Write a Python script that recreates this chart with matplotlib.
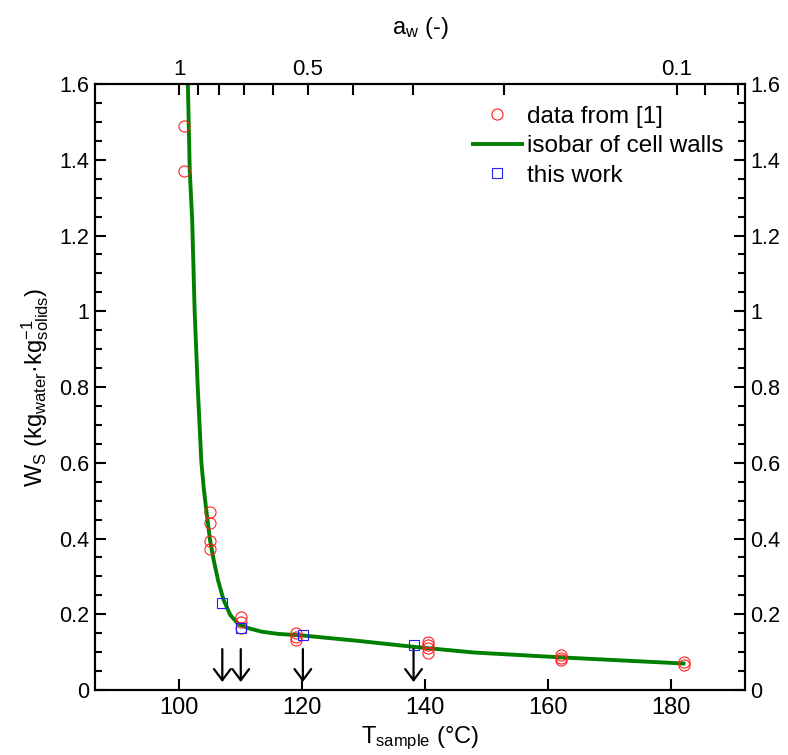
import numpy as np
import matplotlib.pyplot as plt
from matplotlib.ticker import MultipleLocator

plt.rcParams['font.family'] = ['Liberation Sans', 'DejaVu Sans']
plt.rcParams['mathtext.fontset'] = 'custom'
plt.rcParams['mathtext.rm'] = 'Liberation Sans'
plt.rcParams['mathtext.it'] = 'Liberation Sans:italic'

# data from [1]
lit_T = [100.8, 100.8, 105.0, 105.0, 105.0, 105.0, 110.0, 110.0, 110.0,
         119.0, 119.0, 119.0, 140.5, 140.5, 140.5, 140.5, 162.0, 162.0, 162.0,
         182.1, 182.1]
lit_W = [1.489, 1.370, 0.470, 0.441, 0.394, 0.372, 0.193, 0.180, 0.165,
         0.150, 0.141, 0.133, 0.127, 0.119, 0.110, 0.097, 0.092, 0.084, 0.079,
         0.075, 0.066]

# this work
own_T = [107.0, 110.0, 120.1, 138.1]
own_W = [0.231, 0.163, 0.145, 0.120]

# isobar of cell walls
iso_T = [101.4, 101.7, 102.1, 102.5, 103.0, 103.3, 103.6, 104.0, 104.45, 105.0,
         105.6, 106.3, 107.2, 108.3, 109.6, 111.3, 113.4, 116.1, 120.0, 128.9,
         138.1, 147.9, 162.2, 172.0, 182.0]
iso_W = [1.600, 1.373, 1.241, 1.000, 0.800, 0.700, 0.600, 0.530, 0.467, 0.396,
         0.343, 0.290, 0.238, 0.198, 0.174, 0.163, 0.154, 0.148, 0.144, 0.130,
         0.114, 0.099, 0.086, 0.078, 0.070]

# water activity ticks on top axis
aw_ticks = [1, 0.9, 0.8, 0.7, 0.6, 0.5, 0.4, 0.3, 0.2, 0.1, 0.09, 0.08]
aw_labels = ['1', '', '', '', '', '0.5', '', '', '', '0.1', '', '']

# Antoine equation (mmHg, degC) to convert a_w <-> T at atmospheric pressure
A, B, C = 8.14019, 1810.94, 244.485


def p_sat(t):
    return 10 ** (A - B / (C + t))


def t_from_aw(aw):
    p = p_sat(100.0) / np.asarray(aw, dtype=float)
    return B / (A - np.log10(p)) - C


fig = plt.figure(figsize=(7.88, 7.55), dpi=100)
ax = fig.add_axes([0.1206, 0.0861, 0.8248, 0.8026])

ax.plot(iso_T, iso_W, color='#008000', lw=2.8, label='isobar of cell walls', zorder=3)
ax.plot(lit_T, lit_W, 'o', mfc='none', mec='#ff2020', ms=8, mew=0.8,
        label='data from [1]', zorder=4)
ax.plot(own_T, own_W, 's', mfc='none', mec='#2020ff', ms=7, mew=0.8,
        label='this work', zorder=5)

for t in own_T:
    ax.annotate('', xy=(t, 0.021), xytext=(t, 0.108),
                arrowprops=dict(arrowstyle='->,head_length=0.4,head_width=0.3',
                                mutation_scale=20, lw=1.6, color='black',
                                shrinkA=0, shrinkB=0))

ax.set_xlim(86.3, 192.0)
ax.set_ylim(0, 1.6)
ax.set_xticks([100, 120, 140, 160, 180])
ax.yaxis.set_major_locator(MultipleLocator(0.2))
ax.yaxis.set_minor_locator(MultipleLocator(0.05))
ax.yaxis.set_major_formatter(lambda v, pos: f'{v:g}')
ax.tick_params(axis='both', which='major', direction='in', length=8, width=1.5, pad=5)
ax.tick_params(axis='x', labelsize=17)
ax.tick_params(axis='y', labelsize=15.5, pad=4)
ax.tick_params(axis='y', which='minor', direction='in', length=5, width=1.5)
ax.tick_params(axis='y', which='both', left=True, right=True, labelright=True)
ax.tick_params(axis='x', top=False)
for s in ax.spines.values():
    s.set_linewidth(1.5)

ax.set_xlabel('T$_\\mathrm{sample}$ (°C)', fontsize=17, labelpad=4)
ax.set_ylabel('W$_\\mathrm{S}$ (kg$_\\mathrm{water}$·kg$^{-1}_\\mathrm{solids}$)',
              fontsize=17, labelpad=6)

ax2 = ax.twiny()
ax2.set_xlim(ax.get_xlim())
ax2.set_xticks(t_from_aw(aw_ticks))
ax2.set_xticklabels(aw_labels)
ax2.tick_params(axis='x', direction='in', length=8, width=1.5, labelsize=16, pad=3)
ax2.set_xlabel('a$_\\mathrm{w}$ (-)', fontsize=17, labelpad=18)
for s in ax2.spines.values():
    s.set_linewidth(1.5)

ax.legend(loc='upper right', frameon=False, fontsize=17.5, handlelength=2.0,
          handletextpad=0.2, borderaxespad=0.5, labelspacing=0.3,
          handles=[ax.lines[1], ax.lines[0], ax.lines[2]])

fig.savefig('out.png', dpi=100)
